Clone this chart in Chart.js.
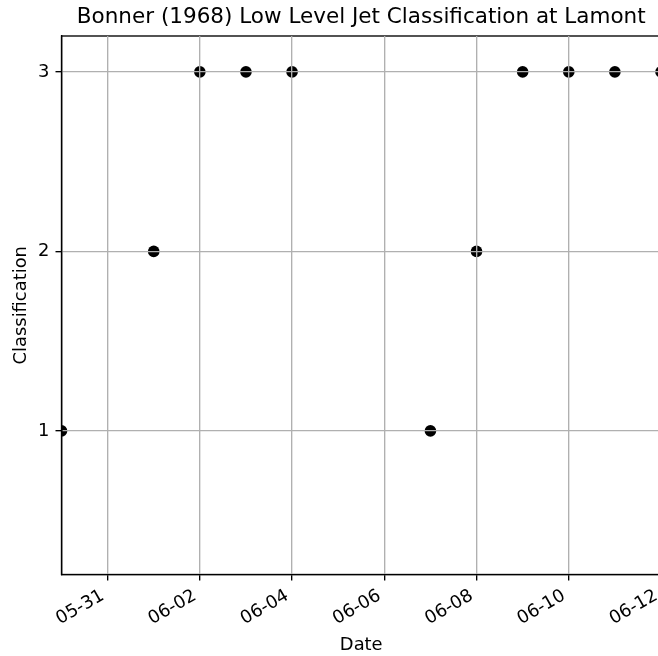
<!DOCTYPE html>
<html>
<head>
<meta charset="utf-8">
<script src="https://cdn.jsdelivr.net/npm/chart.js@4/dist/chart.umd.min.js"></script>
<style>
  html, body { margin: 0; padding: 0; background: #fff; overflow: hidden; }
  #wrap { width: 722px; height: 656px; }
</style>
</head>
<body>
<div id="wrap"><canvas id="c" width="722" height="656"></canvas></div>
<script>
// Observation dates (month-day) and the Bonner (1968) LLJ class on each day
const dates = ['05-30', '06-01', '06-02', '06-03', '06-04', '06-07', '06-08', '06-09', '06-10', '06-11', '06-12'];
const classes = [1, 2, 3, 3, 3, 1, 2, 3, 3, 3, 3];
// Axis range and tick labels
const startDate = '05-30';
const endDate = '06-12';
const xTickLabels = ['05-31', '06-02', '06-04', '06-06', '06-08', '06-10', '06-12'];
const yTicks = [1, 2, 3];
const yRange = [0.2, 3.2];

const YEAR = 2019;
function dayIndex(md) {
  const [m, d] = md.split('-').map(Number);
  const [m0, d0] = startDate.split('-').map(Number);
  return Math.round((Date.UTC(YEAR, m - 1, d) - Date.UTC(YEAR, m0 - 1, d0)) / 86400000);
}
function labelFor(idx) {
  const [m0, d0] = startDate.split('-').map(Number);
  const t = new Date(Date.UTC(YEAR, m0 - 1, d0) + idx * 86400000);
  return String(t.getUTCMonth() + 1).padStart(2, '0') + '-' + String(t.getUTCDate()).padStart(2, '0');
}

const points = dates.map((d, i) => ({ x: dayIndex(d), y: classes[i] }));
const xTickValues = xTickLabels.map(dayIndex);

const FONT = "'DejaVu Sans', sans-serif";
const TICK_SIZE = 17.9;
const TITLE_SIZE = 21.5;
const GRID = '#b0b0b0';
const LINE_W = 1.35;

// Full box frame (top/right spines) drawn above the data
const frame = {
  id: 'frame',
  afterDatasetsDraw(chart) {
    const { ctx, chartArea: a } = chart;
    ctx.save();
    ctx.strokeStyle = '#000';
    ctx.lineWidth = LINE_W;
    ctx.strokeRect(a.left, a.top, a.right - a.left, a.bottom - a.top);
    ctx.restore();
  }
};

new Chart(document.getElementById('c'), {
  type: 'scatter',
  data: {
    datasets: [{
      data: points,
      backgroundColor: '#000',
      borderColor: '#000',
      borderWidth: 0,
      pointRadius: 5.8,
      pointHoverRadius: 5.8,
      clip: 0
    }]
  },
  options: {
    responsive: false,
    animation: false,
    events: [],
    layout: { padding: { left: 0, right: 61, top: 0, bottom: 0 } },
    plugins: {
      legend: { display: false },
      tooltip: { enabled: false },
      title: {
        display: true,
        fullSize: false,
        text: 'Bonner (1968) Low Level Jet Classification at Lamont',
        color: '#000',
        font: { family: FONT, size: TITLE_SIZE, weight: 'normal' },
        padding: { top: 4.7, bottom: 5.5 }
      }
    },
    scales: {
      x: {
        type: 'linear',
        min: dayIndex(startDate),
        max: dayIndex(endDate),
        afterBuildTicks(scale) { scale.ticks = xTickValues.map(v => ({ value: v })); },
        afterFit(scale) { scale.height = 81.5; },
        ticks: {
          color: '#000',
          font: { family: FONT, size: TICK_SIZE },
          minRotation: 30,
          maxRotation: 30,
          padding: 4.7,
          labelOffset: -4.8,
          autoSkip: false,
          callback: v => labelFor(v)
        },
        grid: { color: GRID, lineWidth: LINE_W, tickColor: '#000', tickLength: 6, z: 1 },
        border: { display: true, color: '#000', width: LINE_W, z: 2 },
        title: {
          display: true,
          text: 'Date',
          color: '#000',
          font: { family: FONT, size: TICK_SIZE },
          padding: { top: 0, bottom: 0 }
        }
      },
      y: {
        type: 'linear',
        min: yRange[0],
        max: yRange[1],
        afterBuildTicks(scale) { scale.ticks = yTicks.map(v => ({ value: v })); },
        afterFit(scale) { scale.width = 61.5; },
        ticks: {
          color: '#000',
          font: { family: FONT, size: TICK_SIZE },
          padding: 6,
          callback: v => String(v)
        },
        grid: { color: GRID, lineWidth: LINE_W, tickColor: '#000', tickLength: 6, z: 1 },
        border: { display: true, color: '#000', width: LINE_W, z: 2 },
        title: {
          display: true,
          text: 'Classification',
          color: '#000',
          font: { family: FONT, size: TICK_SIZE },
          padding: { top: 11, bottom: 0 }
        }
      }
    }
  },
  plugins: [frame]
});
</script>
</body>
</html>
